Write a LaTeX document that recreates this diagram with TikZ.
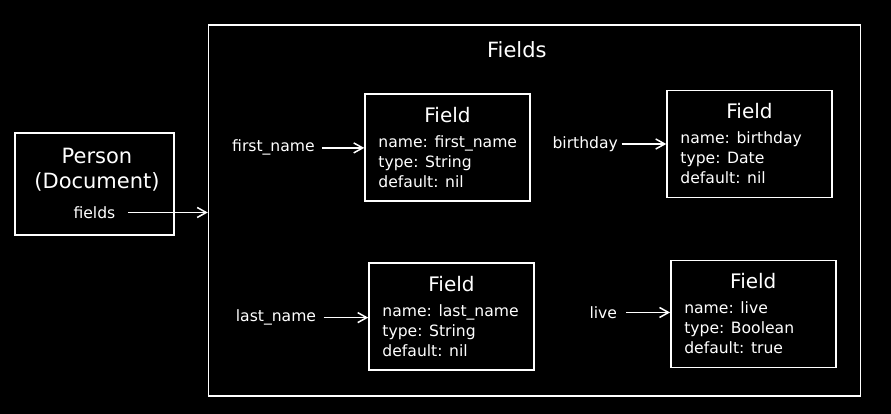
\documentclass[tikz,border=0pt]{standalone}
\usepackage{fontspec}
\setmainfont{DejaVu Sans}
\usepackage{tikz}
\usetikzlibrary{positioning, arrows.meta}

\begin{document}
\begin{tikzpicture}[
  x=1pt, y=-1pt,
  >={Straight Barb[length=9pt,width=10pt]},
  box/.style={draw=white, line width=1.5pt, inner sep=0pt, minimum width=165pt, minimum height=107pt},
  docB/.style={box, minimum width=159pt, minimum height=102pt},
  clusterB/.style={box, minimum width=652pt, minimum height=371pt},
  titleT/.style={text=white, font=\fontsize{20}{25.7}\selectfont, inner sep=0pt, align=center, anchor=base},
  bigT/.style={titleT, font=\fontsize{21}{25.7}\selectfont},
  bodyT/.style={text=white, font=\fontsize{15.6}{20}\selectfont, inner sep=0pt, align=left, anchor=base west},
  lbl/.style={text=white, font=\fontsize{15.6}{20}\selectfont, inner sep=0pt, anchor=base west},
  arr/.style={->, white, line width=1.5pt}
]
\fill[black] (0,0) rectangle (891,414);
\useasboundingbox (0,0) rectangle (891,414);

% document node
\node[docB] (person) at (94.5,184.2) {};
\node[bigT] (personT) at (97,189) {Person\\(Document)};
\node[lbl] (fieldsL) at (73.3,218.3) {fields};

% cluster of fields
\node[clusterB] (fields) at (534.5,210.7) {};
\node[bigT] (fieldsT) at (516.8,57.3) {Fields};

% field boxes
\node[box] (f1) at (447.5,147.3) {};
\node[titleT, yshift=-29pt] at (f1.north) {Field};
\node[bodyT, xshift=14pt, yshift=-94pt] at (f1.north west) {name: first\_name\\type: String\\default: nil};

\node[box] (f2) at (749.5,144.2) {};
\node[titleT, yshift=-29pt] at (f2.north) {Field};
\node[bodyT, xshift=14pt, yshift=-94pt] at (f2.north west) {name: birthday\\type: Date\\default: nil};

\node[box] (f3) at (451.5,316.3) {};
\node[titleT, yshift=-29pt] at (f3.north) {Field};
\node[bodyT, xshift=14pt, yshift=-94pt] at (f3.north west) {name: last\_name\\type: String\\default: nil};

\node[box] (f4) at (753.3,314) {};
\node[titleT, yshift=-29pt] at (f4.north) {Field};
\node[bodyT, xshift=14pt, yshift=-94pt] at (f4.north west) {name: live\\type: Boolean\\default: true};

% port labels
\node[lbl] (firstL) at (232,152) {first\_name};
\node[lbl] (birthL) at (552.3,148.3) {birthday};
\node[lbl] (lastL) at (235.7,321.7) {last\_name};
\node[lbl] (liveL) at (589.3,318.3) {live};

\draw[arr, shorten <=12.5pt] (fieldsL.east) -- (fieldsL.east -| fields.west);
\draw[arr, shorten <=7pt] (firstL.east) -- (firstL.east -| f1.west);
\draw[arr, shorten <=3.5pt] (birthL.east) -- (birthL.east -| f2.west);
\draw[arr, shorten <=7.4pt] (lastL.east) -- (lastL.east -| f3.west);
\draw[arr, shorten <=9pt] (liveL.east) -- (liveL.east -| f4.west);
\end{tikzpicture}
\end{document}
